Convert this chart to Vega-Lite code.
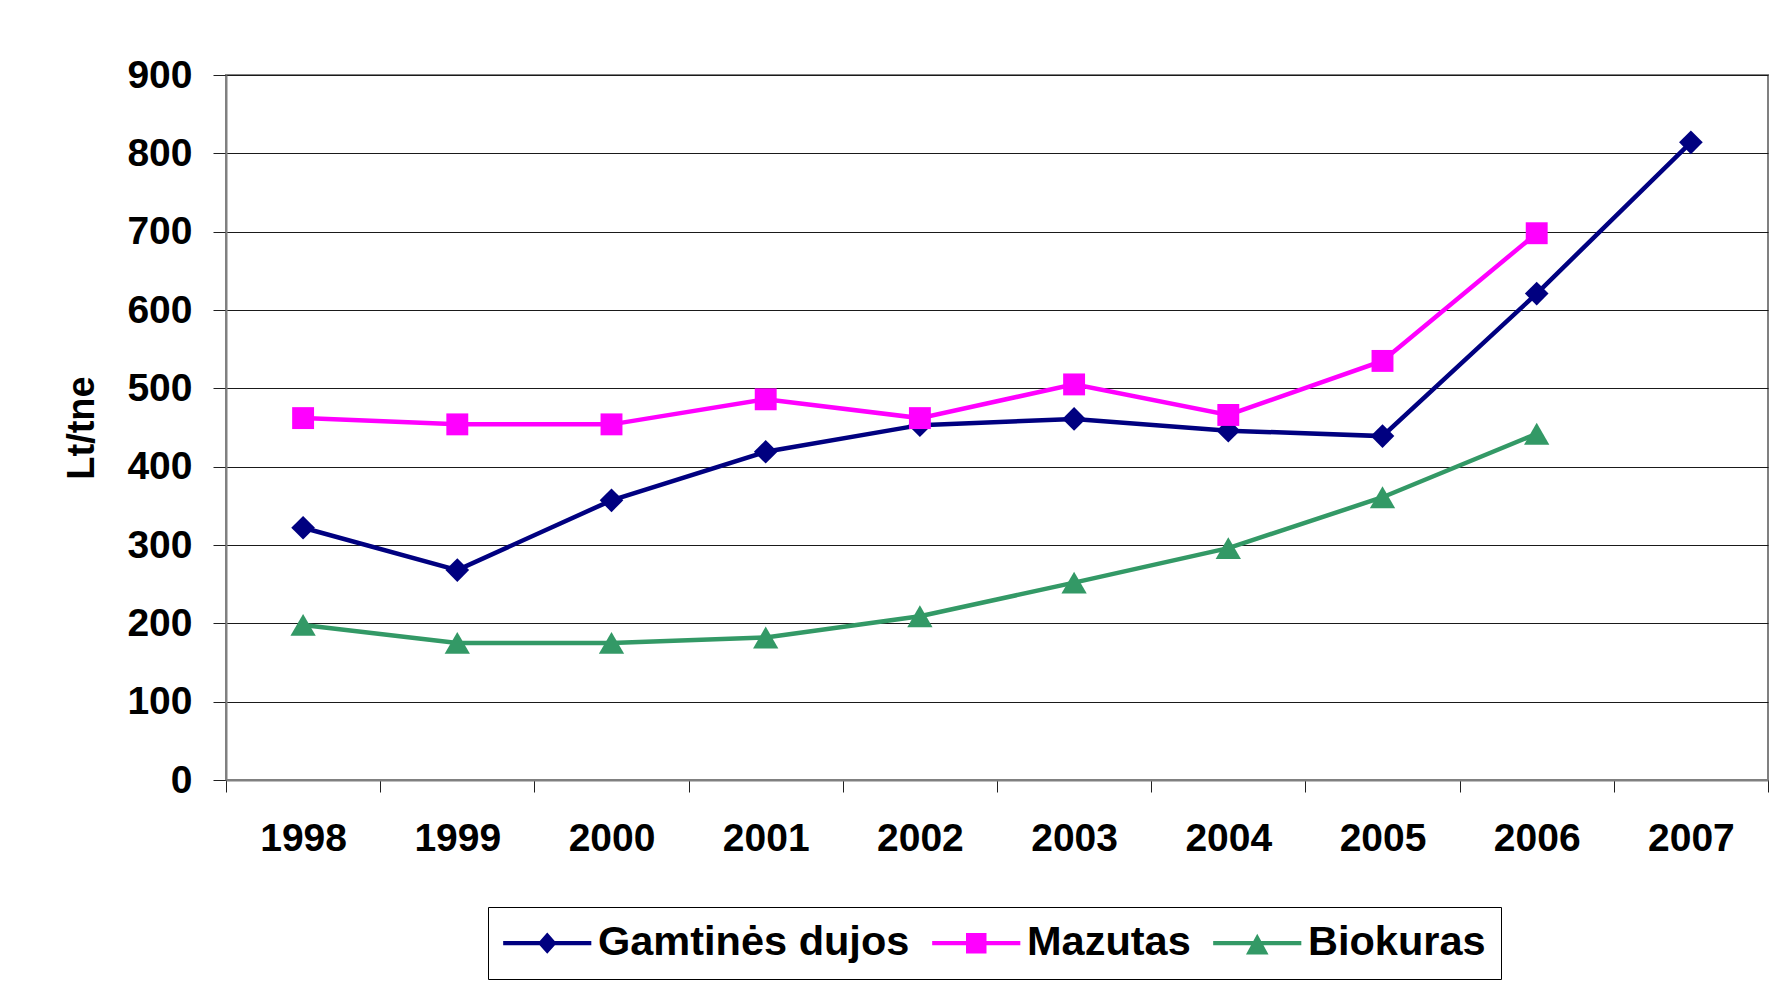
{
  "$schema": "https://vega.github.io/schema/vega-lite/v6.json",
  "width": 1542,
  "height": 705,
  "autosize": "none",
  "padding": {"left": 226, "top": 75, "right": 15, "bottom": 206},
  "background": "white",
  "config": {
    "font": "Liberation Sans",
    "view": {"stroke": "#808080", "strokeWidth": 2}
  },
  "data": {
    "values": [
      {"year": 1998, "series": "Gamtinės dujos", "value": 322},
      {"year": 1999, "series": "Gamtinės dujos", "value": 268},
      {"year": 2000, "series": "Gamtinės dujos", "value": 357},
      {"year": 2001, "series": "Gamtinės dujos", "value": 419},
      {"year": 2002, "series": "Gamtinės dujos", "value": 453},
      {"year": 2003, "series": "Gamtinės dujos", "value": 461},
      {"year": 2004, "series": "Gamtinės dujos", "value": 446},
      {"year": 2005, "series": "Gamtinės dujos", "value": 439},
      {"year": 2006, "series": "Gamtinės dujos", "value": 621},
      {"year": 2007, "series": "Gamtinės dujos", "value": 814},
      {"year": 1998, "series": "Mazutas", "value": 462},
      {"year": 1999, "series": "Mazutas", "value": 454},
      {"year": 2000, "series": "Mazutas", "value": 454},
      {"year": 2001, "series": "Mazutas", "value": 486},
      {"year": 2002, "series": "Mazutas", "value": 462},
      {"year": 2003, "series": "Mazutas", "value": 505},
      {"year": 2004, "series": "Mazutas", "value": 466},
      {"year": 2005, "series": "Mazutas", "value": 535},
      {"year": 2006, "series": "Mazutas", "value": 698},
      {"year": 1998, "series": "Biokuras", "value": 198},
      {"year": 1999, "series": "Biokuras", "value": 175},
      {"year": 2000, "series": "Biokuras", "value": 175},
      {"year": 2001, "series": "Biokuras", "value": 182},
      {"year": 2002, "series": "Biokuras", "value": 209},
      {"year": 2003, "series": "Biokuras", "value": 252},
      {"year": 2004, "series": "Biokuras", "value": 296},
      {"year": 2005, "series": "Biokuras", "value": 361},
      {"year": 2006, "series": "Biokuras", "value": 442}
    ]
  },
  "encoding": {
    "y": {
      "field": "value",
      "type": "quantitative",
      "scale": {"domain": [0, 900], "nice": false, "zero": true},
      "axis": {
        "values": [0, 100, 200, 300, 400, 500, 600, 700, 800, 900],
        "title": "Lt/tne",
        "titleFont": "Liberation Sans",
        "titleFontSize": 38,
        "titleFontWeight": "bold",
        "titleColor": "#000000",
        "titleX": -133,
        "titleY": 352.5,
        "titleAngle": -90,
        "titleAlign": "center",
        "titleBaseline": "alphabetic",
        "labelFont": "Liberation Sans",
        "labelFontSize": 39,
        "labelFontWeight": "bold",
        "labelColor": "#000000",
        "labelPadding": 21,
        "tickSize": 13,
        "tickColor": "#202020",
        "tickWidth": 1,
        "domainColor": "#808080",
        "domainWidth": 2,
        "grid": true,
        "gridColor": "#1a1a1a",
        "gridWidth": 1
      }
    },
    "color": {
      "field": "series",
      "type": "nominal",
      "scale": {
        "domain": ["Gamtinės dujos", "Mazutas", "Biokuras"],
        "range": ["#000080", "#FF00FF", "#339966"]
      },
      "legend": {
        "title": null,
        "orient": "none",
        "legendX": 262,
        "legendY": 832,
        "direction": "horizontal",
        "columns": 3,
        "padding": 15,
        "strokeColor": "#000000",
        "fillColor": "#ffffff",
        "labelFont": "Liberation Sans",
        "labelFontSize": 41.5,
        "labelFontWeight": "bold",
        "labelColor": "#000000",
        "labelLimit": 1000,
        "symbolSize": 1681,
        "symbolStrokeWidth": 0,
        "symbolOffset": 23.5,
        "labelOffset": 30,
        "columnPadding": 22,
        "encode": {
          "symbols": {
            "update": {
              "shape": {"signal": "datum.value === 'Gamtinės dujos' ? 'M-2.15,-0.1H2.15V0.1H-2.15Z M0,-0.52L0.46,0L0,0.52L-0.46,0Z' : datum.value === 'Mazutas' ? 'M-2.15,-0.1H2.15V0.1H-2.15Z M-0.5,-0.5H0.5V0.5H-0.5Z' : 'M-2.15,-0.1H2.15V0.1H-2.15Z M0,-0.46L0.55,0.55L-0.55,0.55Z'"},
              "size": {"value": 1681},
              "fill": {"scale": "color", "field": "value"},
              "stroke": {"value": "transparent"},
              "strokeWidth": {"value": 0},
              "opacity": {"value": 1},
              "fillOpacity": {"value": 1}
            }
          }
        }
      }
    }
  },
  "layer": [
    {
      "mark": {"type": "line", "strokeWidth": 4.5},
      "encoding": {
        "x": {
          "field": "year",
          "type": "quantitative",
          "scale": {"domain": [1997.5, 2007.5], "nice": false, "zero": false},
          "axis": {
            "orient": "bottom",
            "title": null,
            "values": [1997.5, 1998.5, 1999.5, 2000.5, 2001.5, 2002.5, 2003.5, 2004.5, 2005.5, 2006.5, 2007.5],
            "labels": false,
            "ticks": true,
            "tickSize": 12,
            "tickColor": "#202020",
            "tickWidth": 1,
            "domain": true,
            "domainColor": "#808080",
            "domainWidth": 2,
            "grid": false
          }
        }
      }
    },
    {
      "transform": [{"filter": "datum.series === 'Gamtinės dujos'"}],
      "mark": {"type": "point", "filled": true, "opacity": 1, "strokeWidth": 0, "shape": "diamond", "size": 560},
      "encoding": {
        "x": {
          "field": "year",
          "type": "quantitative",
          "axis": {
            "orient": "bottom",
            "title": null,
            "values": [1998, 1999, 2000, 2001, 2002, 2003, 2004, 2005, 2006, 2007],
            "format": "d",
            "ticks": false,
            "domain": false,
            "grid": false,
            "labelFont": "Liberation Sans",
            "labelFontSize": 39,
            "labelFontWeight": "bold",
            "labelColor": "#000000",
            "labelPadding": 39
          }
        }
      }
    },
    {
      "transform": [{"filter": "datum.series === 'Mazutas'"}],
      "mark": {"type": "point", "filled": true, "opacity": 1, "strokeWidth": 0, "shape": "square", "size": 480},
      "encoding": {
        "x": {"field": "year", "type": "quantitative", "axis": null}
      }
    },
    {
      "transform": [{"filter": "datum.series === 'Biokuras'"}],
      "mark": {"type": "point", "filled": true, "opacity": 1, "strokeWidth": 0, "shape": "triangle-up", "size": 640},
      "encoding": {
        "x": {"field": "year", "type": "quantitative", "axis": null}
      }
    }
  ],
  "resolve": {"axis": {"x": "independent"}}
}
